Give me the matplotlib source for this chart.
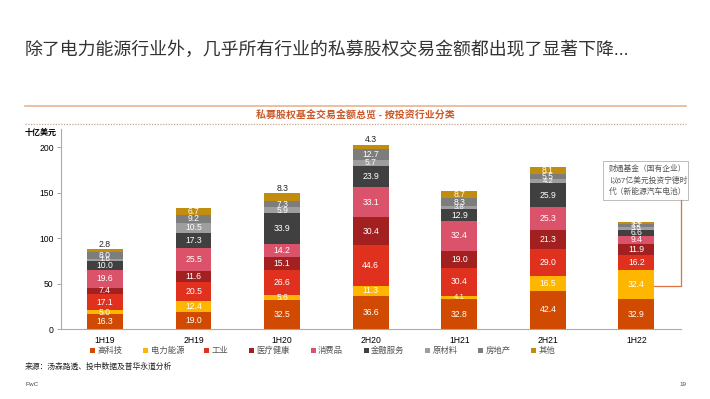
import matplotlib
matplotlib.use("Agg")
import matplotlib.pyplot as plt
from matplotlib.patches import Patch, Rectangle
from matplotlib.lines import Line2D
import numpy as np

plt.rcParams['font.family'] = ['Liberation Sans', 'Noto Sans CJK SC', 'DejaVu Sans']

periods = ['1H19', '2H19', '1H20', '2H20', '1H21', '2H21', '1H22']
sectors = ['高科技', '电力能源', '工业', '医疗健康', '消费品', '金融服务', '原材料', '房地产', '其他']
high_tech   = [16.3, 19.0, 32.5, 36.6, 32.8, 42.4, 32.9]
power       = [5.0, 12.4, 5.6, 11.3, 4.1, 16.5, 32.4]
industrial  = [17.1, 20.5, 26.6, 44.6, 30.4, 29.0, 16.2]
healthcare  = [7.4, 11.6, 15.1, 30.4, 19.0, 21.3, 11.9]
consumer    = [19.6, 25.5, 14.2, 33.1, 32.4, 25.3, 9.4]
financial   = [10.0, 17.3, 33.9, 23.9, 12.9, 25.9, 6.6]
materials   = [1.6, 10.5, 5.9, 5.7, 3.8, 4.2, 3.5]
real_estate = [8.0, 9.2, 7.3, 12.7, 8.3, 5.5, 3.2]
other       = [2.8, 6.7, 8.3, 4.3, 8.7, 8.1, 1.8]
series = [high_tech, power, industrial, healthcare, consumer, financial, materials, real_estate, other]
other_label_above = [True, False, True, True, False, False, False]

colors = ['#D04A02', '#FFB600', '#E0301E', '#A32020', '#DB536A', '#404041', '#9E9E9E', '#7D7D7D', '#C08D0F']

W, H = 710, 399
fig = plt.figure(figsize=(W / 100, H / 100), dpi=100)

def fx(x): return x / W
def fy(y): return 1 - y / H

# Title
fig.text(fx(25), fy(50), '除了电力能源行业外，几乎所有行业的私募股权交易金额都出现了显著下降...',
         fontsize=12.9, color='#333333', va='center', ha='left', fontweight='light')

# Header lines and subtitle
fig.add_artist(Line2D([fx(25), fx(686)], [fy(106), fy(106)], color='#E8B592', lw=1.2))
fig.add_artist(Line2D([fx(25), fx(686)], [fy(123.5), fy(123.5)], color='#C9A58E', lw=0.9,
                      linestyle=(0, (1, 1.2))))
fig.text(fx(355), fy(115), '私募股权基金交易金额总览 - 按投资行业分类', fontsize=7.2,
         color='#CC5A2A', ha='center', va='center', fontweight='bold')

fig.text(fx(25), fy(133), '十亿美元', fontsize=5.8, color='#000000', ha='left', va='center',
         fontweight='bold')

ax = fig.add_axes([fx(60.7), fy(329.3), fx(680.7) - fx(60.7), fy(129) - fy(329.3)])
x = np.arange(len(periods))
bottom = np.zeros(len(periods))
bw = 0.405
for si, (vals, c) in enumerate(zip(series, colors)):
    vals = np.array(vals)
    ax.bar(x, vals, bw, bottom=bottom, color=c, edgecolor='none')
    for i, v in enumerate(vals):
        fs = 6.2 if v >= 5 else 5.6
        if si == len(series) - 1 and other_label_above[i]:
            ax.text(x[i], bottom[i] + v + 0.4, f'{v:.1f}', ha='center', va='bottom',
                    fontsize=6.2, color='#222222')
        else:
            ax.text(x[i], bottom[i] + v / 2, f'{v:.1f}', ha='center', va='center',
                    fontsize=fs, color='white')
    bottom += vals

ax.set_xlim(-0.5, 6.5)
ax.set_ylim(0, 220)
ax.set_yticks([0, 50, 100, 150, 200])
ax.set_xticks(x)
ax.set_xticklabels(periods)
ax.tick_params(axis='y', labelsize=6.2, length=3, width=0.6, color='#999999', pad=2)
ax.tick_params(axis='x', labelsize=6.2, length=0, pad=5)
for s in ['top', 'right']:
    ax.spines[s].set_visible(False)
for s in ['left', 'bottom']:
    ax.spines[s].set_color('#AAAAAA')
    ax.spines[s].set_linewidth(0.8)

# Annotation box
fig.add_artist(Rectangle((fx(602.7), fy(200)), fx(688.3) - fx(602.7), fy(161) - fy(200),
                         facecolor='white', edgecolor='#BBBBBB', lw=0.7))
fig.text(fx(609), fy(180.5), '财通基金（国有企业）\n以67亿美元投资宁德时\n代（新能源汽车电池）',
         fontsize=5.6, color='#555555', ha='left', va='center', linespacing=1.55)
fig.add_artist(Line2D([fx(680.7), fx(680.7), fx(654)], [fy(200), fy(285.7), fy(285.7)],
                      color='#D9733F', lw=0.9))

# Legend
handles = [Patch(facecolor=c, edgecolor='none', label=s) for s, c in zip(sectors, colors)]
leg = fig.legend(handles=handles, loc='center left', bbox_to_anchor=(fx(90), fy(351)), ncol=9,
                 frameon=False, fontsize=6, handlelength=0.6, handleheight=0.6,
                 handletextpad=0.3, columnspacing=2.45, borderaxespad=0, borderpad=0)
for t in leg.get_texts():
    t.set_color('#555555')

fig.text(fx(25), fy(367), '来源：汤森路透、投中数据及普华永道分析', fontsize=5.6, color='#222222',
         ha='left', va='center')
fig.text(fx(25), fy(384), 'PwC', fontsize=4.5, color='#444444', ha='left', va='center')
fig.text(fx(686), fy(384), '19', fontsize=4.5, color='#444444', ha='right', va='center')

fig.savefig('out.png', dpi=100)
